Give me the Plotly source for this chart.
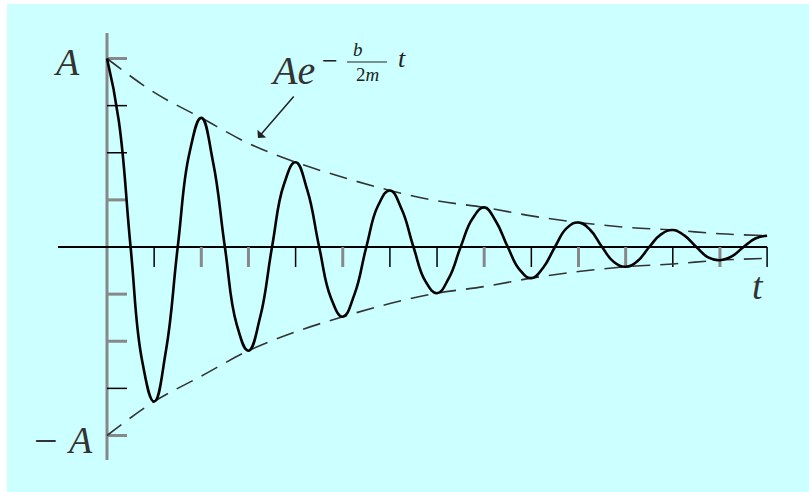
import plotly.graph_objects as go

# envelope magnitude (in units of A) read at each tick of t
t_ticks = list(range(15))
envelope = [1.0, 0.82, 0.685, 0.55, 0.45, 0.37, 0.30, 0.245, 0.21,
            0.165, 0.13, 0.105, 0.09, 0.07, 0.06]

# oscillation read every quarter tick of t (0, 0.25, 0.5, ... 14)
osc_y = [
    1.0, 0.67, 0.0, -0.61, -0.82, -0.55, 0.0, 0.50, 0.685, 0.45, 0.0, -0.41,
    -0.55, -0.37, 0.0, 0.33, 0.45, 0.30, 0.0, -0.27, -0.37, -0.25, 0.0, 0.22,
    0.30, 0.20, 0.0, -0.18, -0.245, -0.165, 0.0, 0.15, 0.21, 0.135, 0.0, -0.12,
    -0.165, -0.11, 0.0, 0.10, 0.13, 0.09, 0.0, -0.08, -0.105, -0.075, 0.0, 0.067,
    0.09, 0.06, 0.0, -0.055, -0.07, -0.05, 0.0, 0.045, 0.06,
]
osc_t = [i * 0.25 for i in range(len(osc_y))]

# tick marks on both axes
y_tick_vals = [1.0, 0.75, 0.5, 0.25, -0.25, -0.5, -0.75, -1.0]
y_tick_cols = ["g", "k", "k", "g", "g", "g", "k", "g"]
t_tick_vals = list(range(1, 15))
t_tick_cols = ["k", "g", "g", "k", "g", "k", "k", "g", "k", "g", "g", "k", "g", "k"]

# pixel scale of the original picture
X0, Y0 = 107, 247
SX, SY = 47.15, 188.5


def px2x(px):
    return (px - X0) / SX


def py2y(py):
    return (Y0 - py) / SY


fig = go.Figure()

dash = "18px,10px"
fig.add_trace(go.Scatter(x=t_ticks, y=envelope, mode="lines",
                         line=dict(color="#333333", width=1.6, dash=dash, shape="spline")))
fig.add_trace(go.Scatter(x=t_ticks, y=[-v for v in envelope], mode="lines",
                         line=dict(color="#333333", width=1.6, dash=dash, shape="spline")))
fig.add_trace(go.Scatter(x=osc_t, y=osc_y, mode="lines",
                         line=dict(color="black", width=2.6, shape="spline", smoothing=1.3)))

GRAY = "#888888"
shapes = []
# axes
shapes.append(dict(type="line", xref="x", yref="y", x0=0, x1=0, y0=py2y(33), y1=py2y(460),
                   line=dict(color=GRAY, width=3), layer="below"))
shapes.append(dict(type="line", xref="x", yref="y", x0=px2x(58), x1=14, y0=0, y1=0,
                   line=dict(color="black", width=1.8), layer="below"))
for v, c in zip(y_tick_vals, y_tick_cols):
    shapes.append(dict(type="line", xref="x", yref="y", x0=0, x1=20 / SX, y0=v, y1=v,
                       line=dict(color=GRAY if c == "g" else "black", width=3 if c == "g" else 1.5),
                       layer="below"))
for v, c in zip(t_tick_vals, t_tick_cols):
    shapes.append(dict(type="line", xref="x", yref="y", x0=v, x1=v, y0=0, y1=-20 / SY,
                       line=dict(color=GRAY if c == "g" else "black", width=3 if c == "g" else 1.5),
                       layer="below"))
# fraction bar of b/2m
shapes.append(dict(type="line", xref="x", yref="y", x0=px2x(347), x1=px2x(387),
                   y0=py2y(62), y1=py2y(62), line=dict(color="#222222", width=1.2)))

SERIF = "Liberation Serif"


def label(px, py, text, size, color="#222222"):
    return dict(x=px2x(px), y=py2y(py), xref="x", yref="y", text=text, showarrow=False,
                font=dict(family=SERIF, size=size, color=color), xanchor="center", yanchor="middle")


annotations = [
    label(66, 62, "<i>A</i>", 38, "#333333"),
    label(46, 441, "\u2212", 42, "#333333"),
    label(79, 440, "<i>A</i>", 38, "#333333"),
    label(758, 286, "<i>t</i>", 38, "#333333"),
    label(292, 70, "<i>Ae</i>", 40, "#333333"),
    label(330, 60, "\u2212", 28),
    label(358, 49, "<i>b</i>", 19),
    label(367, 74, "2<i>m</i>", 19),
    label(402, 58, "<i>t</i>", 26),
    dict(x=px2x(258), y=py2y(138), xref="x", yref="y", ax=37, ay=-43, showarrow=True,
         arrowhead=1, arrowsize=1.3, arrowwidth=1.5, arrowcolor="#222222", text=""),
]

fig.update_layout(
    width=809, height=492,
    margin=dict(l=7, r=0, t=4, b=0),
    paper_bgcolor="white",
    plot_bgcolor="#ccffff",
    showlegend=False,
    xaxis=dict(range=[px2x(7), px2x(809)], visible=False, fixedrange=True),
    yaxis=dict(range=[py2y(492), py2y(4)], visible=False, fixedrange=True),
    shapes=shapes,
    annotations=annotations,
)

fig.write_html("out.html", config={"displayModeBar": False},
               post_script="document.body.style.margin='0';document.body.style.overflow='hidden';"
                           "document.body.style.background='#ccffff';")
